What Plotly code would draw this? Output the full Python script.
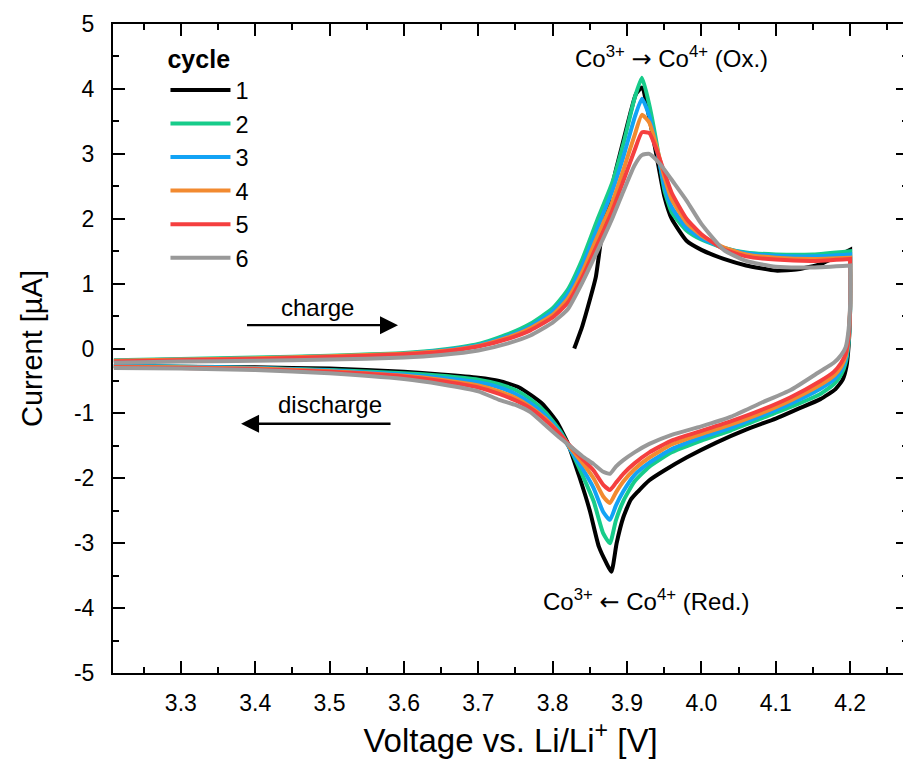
import plotly.graph_objects as go

# ---------------- data ----------------
cycles = ["1", "2", "3", "4", "5", "6"]
colors = ["#000000", "#17cc8a", "#12a3f5", "#f28a30", "#f53f3f", "#999999"]

# cycle 1 – anodic (charge) branch starts at 3.83 V
v1_up = [3.829, 3.84, 3.85, 3.858, 3.866, 3.875, 3.885, 3.895, 3.905, 3.912, 3.92, 3.93,
         3.94, 3.95, 3.96, 3.98, 4.00, 4.03, 4.06, 4.10, 4.13, 4.16, 4.20]
i1_up = [0.0, 0.35, 0.75, 1.10, 1.75, 2.25, 2.75, 3.20, 3.65, 3.92, 4.02, 3.55,
         2.95, 2.35, 2.00, 1.66, 1.52, 1.38, 1.28, 1.20, 1.22, 1.30, 1.52]
# cycle 1 – cathodic (discharge) branch
v1_dn = [4.200, 4.200, 4.198, 4.195, 4.19, 4.18, 4.16, 4.13, 4.10, 4.06, 4.02, 3.98, 3.95,
         3.93, 3.915, 3.905, 3.895, 3.886, 3.879, 3.872, 3.862, 3.850, 3.836, 3.820, 3.805,
         3.786, 3.755, 3.728, 3.70, 3.65, 3.60, 3.50, 3.40, 3.30, 3.21]
i1_dn = [1.52, 0.60, 0.05, -0.28, -0.48, -0.63, -0.78, -0.93, -1.08, -1.25, -1.45, -1.68, -1.88,
         -2.03, -2.20, -2.33, -2.60, -3.00, -3.44, -3.30, -3.05, -2.50, -1.98, -1.45, -1.12,
         -0.85, -0.60, -0.50, -0.45, -0.40, -0.36, -0.31, -0.29, -0.28, -0.27]

# cycles 2-6 share the voltage grid
v_up = [3.21, 3.30, 3.40, 3.50, 3.60, 3.65, 3.70, 3.74, 3.77, 3.80, 3.82, 3.84, 3.86, 3.88,
        3.895, 3.91, 3.92, 3.93, 3.94, 3.95, 3.96, 3.98, 4.00, 4.03, 4.06, 4.10, 4.15, 4.20]
i2_up = [-0.18, -0.16, -0.14, -0.11, -0.07, -0.02, 0.07, 0.22, 0.38, 0.62, 0.90, 1.38, 1.98, 2.55,
         3.15, 3.85, 4.17, 3.75, 3.15, 2.45, 2.10, 1.82, 1.68, 1.55, 1.48, 1.45, 1.45, 1.50]
i3_up = [-0.19, -0.17, -0.15, -0.12, -0.08, -0.03, 0.05, 0.19, 0.34, 0.57, 0.83, 1.28, 1.85, 2.42,
         2.95, 3.55, 3.85, 3.58, 3.08, 2.52, 2.18, 1.86, 1.70, 1.55, 1.47, 1.43, 1.42, 1.45]
i4_up = [-0.19, -0.17, -0.15, -0.12, -0.08, -0.04, 0.04, 0.17, 0.31, 0.52, 0.76, 1.18, 1.72, 2.25,
         2.75, 3.28, 3.60, 3.48, 3.10, 2.65, 2.30, 1.94, 1.74, 1.56, 1.45, 1.40, 1.38, 1.40]
i5_up = [-0.20, -0.18, -0.16, -0.13, -0.09, -0.05, 0.03, 0.15, 0.28, 0.48, 0.70, 1.10, 1.60, 2.12,
         2.58, 3.05, 3.33, 3.32, 3.05, 2.72, 2.40, 2.00, 1.76, 1.53, 1.42, 1.37, 1.35, 1.38]
i6_up = [-0.22, -0.20, -0.19, -0.17, -0.14, -0.10, -0.03, 0.08, 0.20, 0.40, 0.60, 1.02, 1.50, 2.00,
         2.42, 2.82, 2.98, 3.00, 2.90, 2.76, 2.60, 2.28, 1.92, 1.52, 1.35, 1.26, 1.25, 1.28]

v_dn = [4.200, 4.200, 4.198, 4.194, 4.188, 4.178, 4.16, 4.12, 4.08, 4.04, 4.00, 3.96, 3.93,
        3.91, 3.895, 3.885, 3.877, 3.868, 3.855, 3.84, 3.825, 3.81, 3.79, 3.77, 3.75, 3.728,
        3.70, 3.65, 3.60, 3.50, 3.40, 3.30, 3.21]
i2_dn = [1.50, 0.60, 0.10, -0.22, -0.40, -0.55, -0.70, -0.90, -1.08, -1.26, -1.42, -1.60, -1.82,
         -2.05, -2.35, -2.65, -3.00, -2.85, -2.35, -1.95, -1.58, -1.27, -0.98, -0.78, -0.64, -0.55,
         -0.48, -0.42, -0.38, -0.33, -0.30, -0.28, -0.27]
i3_dn = [1.45, 0.62, 0.15, -0.17, -0.33, -0.48, -0.62, -0.85, -1.04, -1.22, -1.37, -1.55, -1.76,
         -1.95, -2.20, -2.42, -2.64, -2.52, -2.15, -1.85, -1.58, -1.30, -1.03, -0.84, -0.70, -0.60,
         -0.52, -0.45, -0.40, -0.34, -0.30, -0.28, -0.27]
i4_dn = [1.40, 0.65, 0.18, -0.12, -0.28, -0.42, -0.56, -0.80, -1.00, -1.17, -1.32, -1.48, -1.68,
         -1.86, -2.05, -2.22, -2.38, -2.28, -2.00, -1.76, -1.55, -1.32, -1.08, -0.90, -0.76, -0.66,
         -0.57, -0.48, -0.42, -0.35, -0.31, -0.29, -0.28]
i5_dn = [1.38, 0.65, 0.20, -0.08, -0.22, -0.36, -0.50, -0.75, -0.95, -1.12, -1.27, -1.42, -1.60,
         -1.77, -1.93, -2.07, -2.18, -2.10, -1.88, -1.70, -1.52, -1.32, -1.10, -0.92, -0.80, -0.70,
         -0.60, -0.50, -0.43, -0.36, -0.32, -0.30, -0.29]
i6_dn = [1.28, 0.70, 0.30, 0.02, -0.10, -0.22, -0.35, -0.64, -0.84, -1.05, -1.20, -1.33, -1.47,
         -1.60, -1.72, -1.82, -1.93, -1.90, -1.78, -1.66, -1.52, -1.38, -1.18, -0.98, -0.87, -0.79,
         -0.66, -0.55, -0.47, -0.38, -0.33, -0.31, -0.30]

x_ticks = [3.3, 3.4, 3.5, 3.6, 3.7, 3.8, 3.9, 4.0, 4.1, 4.2]
x_tick_text = ["3.3", "3.4", "3.5", "3.6", "3.7", "3.8", "3.9", "4.0", "4.1", "4.2"]
y_ticks = [-5, -4, -3, -2, -1, 0, 1, 2, 3, 4, 5]
y_tick_text = ["-5", "-4", "-3", "-2", "-1", "0", "1", "2", "3", "4", "5"]

# ---------------- figure ----------------
series = [
    (v1_up + v1_dn, i1_up + i1_dn),
    (v_up + v_dn, i2_up + i2_dn),
    (v_up + v_dn, i3_up + i3_dn),
    (v_up + v_dn, i4_up + i4_dn),
    (v_up + v_dn, i5_up + i5_dn),
    (v_up + v_dn, i6_up + i6_dn),
]

FONT = "Liberation Sans, Arial, sans-serif"
fig = go.Figure()
for name, color, (vx, iy) in zip(cycles, colors, series):
    fig.add_trace(go.Scatter(x=vx, y=iy, mode="lines", name=name,
                             line=dict(color=color, width=4, shape="spline", smoothing=0.5)))

axis_common = dict(
    showline=True, linecolor="black", linewidth=2, mirror="ticks",
    ticks="inside", ticklen=12, tickwidth=2, tickcolor="black",
    showgrid=False, zeroline=False,
)

fig.update_xaxes(range=[3.2088, 4.2778], tickvals=x_ticks, ticktext=x_tick_text,
                 tickfont=dict(family=FONT, size=23, color="black"),
                 minor=dict(ticks="inside", ticklen=6, tickwidth=2, tickcolor="black", dtick=0.05,
                            tick0=3.25),
                 title=dict(text="Voltage vs. Li/Li<sup>+</sup> [V]",
                            font=dict(family=FONT, size=33, color="black"), standoff=14),
                 ticklabelstandoff=8,
                 **axis_common)
fig.update_yaxes(range=[-5, 5], tickvals=y_ticks, ticktext=y_tick_text,
                 tickfont=dict(family=FONT, size=23, color="black"),
                 minor=dict(ticks="inside", ticklen=6, tickwidth=2, tickcolor="black", dtick=0.5,
                            tick0=-4.5),
                 title=dict(text="Current [µA]",
                            font=dict(family=FONT, size=29, color="black"), standoff=23),
                 ticklabelstandoff=12,
                 **axis_common)

ann_font = dict(family=FONT, size=24, color="black")
ARW = '<span style="font-family:DejaVu Sans">%s</span>'
fig.add_annotation(x=3.96, y=4.49,
                   text="Co<sup>3+</sup> " + ARW % "→" + " Co<sup>4+</sup> (Ox.)",
                   showarrow=False, font=ann_font)
fig.add_annotation(x=3.926, y=-3.89,
                   text="Co<sup>3+</sup> " + ARW % "←" + " Co<sup>4+</sup> (Red.)",
                   showarrow=False, font=ann_font)
fig.add_annotation(x=3.484, y=0.63, text="charge", showarrow=False, font=ann_font)
fig.add_annotation(x=3.501, y=-0.87, text="discharge", showarrow=False, font=ann_font)
# direction arrows
fig.add_annotation(x=3.592, y=0.36, ax=3.387, ay=0.36, axref="x", ayref="y",
                   text="", showarrow=True, arrowhead=2, arrowsize=1.5, arrowwidth=2.4,
                   arrowcolor="black")
fig.add_annotation(x=3.381, y=-1.16, ax=3.584, ay=-1.16, axref="x", ayref="y",
                   text="", showarrow=True, arrowhead=2, arrowsize=1.5, arrowwidth=2.4,
                   arrowcolor="black")

# the page body adds an 8 px offset; margins compensate so the frame sits at 113..910 / 24..673
fig.update_layout(
    width=903, height=759,
    margin=dict(l=105, r=1, t=16, b=94),
    paper_bgcolor="white", plot_bgcolor="white",
    font=dict(family=FONT, color="black"),
    showlegend=True,
    legend=dict(
        title=dict(text="<b>cycle</b>", font=dict(family=FONT, size=25, color="black")),
        font=dict(family=FONT, size=23.5, color="black"),
        x=0.066, y=0.982, xanchor="left", yanchor="top",
        bgcolor="rgba(0,0,0,0)", borderwidth=0,
        itemwidth=60, tracegroupgap=0,
    ),
)

fig.write_html("out.html")
